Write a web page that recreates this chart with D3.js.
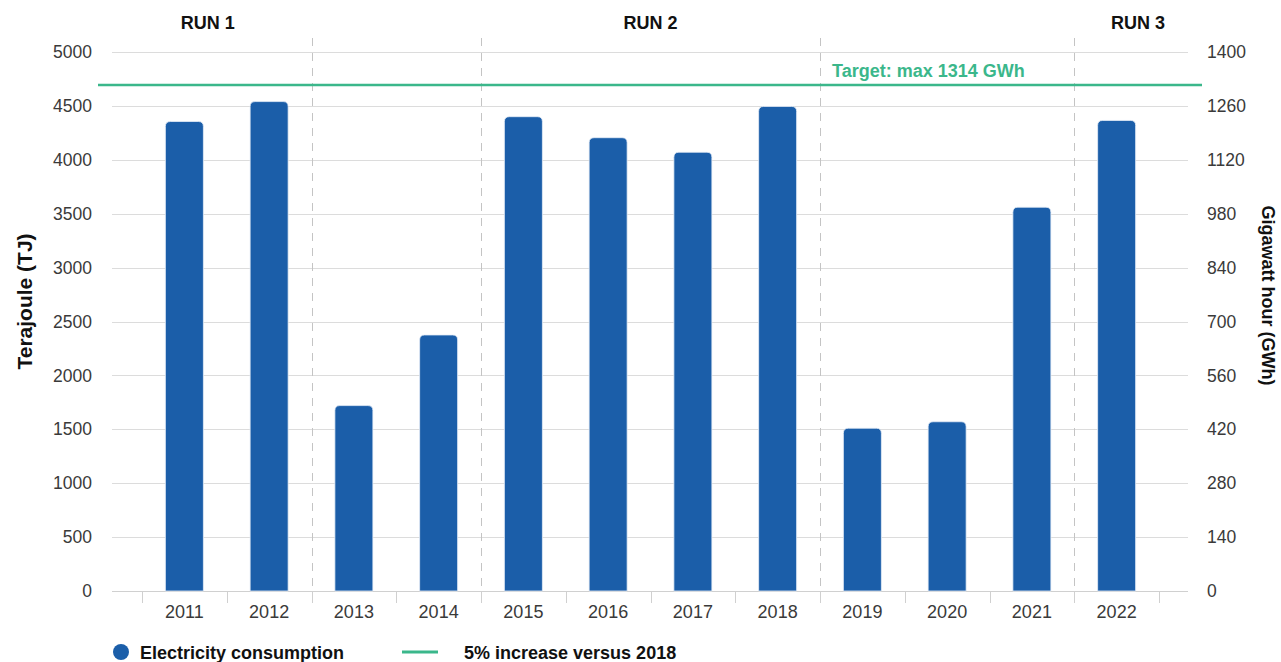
<!DOCTYPE html>
<html>
<head>
<meta charset="utf-8">
<script src="https://cdn.jsdelivr.net/npm/d3@7"></script>
<style>
  html, body { margin: 0; padding: 0; background: #fff; }
  svg { display: block; font-family: "Liberation Sans", Arial, Helvetica, sans-serif; }
</style>
</head>
<body>
<svg id="chart" width="1281" height="662"></svg>
<script>
// ---- data ----
const years = ["2011","2012","2013","2014","2015","2016","2017","2018","2019","2020","2021","2022"];
const consumptionTJ = [4355, 4540, 1720, 2375, 4400, 4205, 4070, 4495, 1510, 1570, 3560, 4365];
const leftTicks = [0, 500, 1000, 1500, 2000, 2500, 3000, 3500, 4000, 4500, 5000];
const rightTicks = [0, 140, 280, 420, 560, 700, 840, 980, 1120, 1260, 1400];
const targetGWh = 1314;
const targetLabel = "Target: max 1314 GWh";
const runs = [
  { label: "RUN 1", from: "2011", to: "2012" },
  { label: "RUN 2", from: "2015", to: "2018" },
  { label: "RUN 3", from: "2022", to: "2022" }
];
const separatorsAfter = ["2012", "2014", "2018", "2021"];
const seriesName = "Electricity consumption";
const targetName = "5% increase versus 2018";
const leftTitle = "Terajoule (TJ)";
const rightTitle = "Gigawatt hour (GWh)";

// ---- layout ----
const svg = d3.select("#chart");
const plotTop = 52, plotBottom = 591;
const gridLeft = 112, gridRight = 1188;
const axisLeft = 142, axisRight = 1159;
const lineLeft = 98, lineRight = 1202;
const blue = "#1b5ea9", green = "#3bb78b";
const tickFont = "'Liberation Sans', Arial, sans-serif";

const x = d3.scaleBand().domain(years).range([axisLeft, axisRight]).paddingInner(0).paddingOuter(0);
const yL = d3.scaleLinear().domain([0, 5000]).range([plotBottom, plotTop]);
const yR = d3.scaleLinear().domain([0, 1400]).range([plotBottom, plotTop]);

// gridlines
svg.append("g").selectAll("line").data(leftTicks).join("line")
  .attr("x1", gridLeft).attr("x2", gridRight)
  .attr("y1", d => Math.round(yL(d)) + 0.5).attr("y2", d => Math.round(yL(d)) + 0.5)
  .attr("stroke", "#dcdcdc").attr("stroke-width", 1);

// dashed separators
svg.append("g").selectAll("line").data(separatorsAfter).join("line")
  .attr("x1", d => Math.round(x(d) + x.bandwidth()) + 0.5)
  .attr("x2", d => Math.round(x(d) + x.bandwidth()) + 0.5)
  .attr("y1", 38).attr("y2", plotBottom)
  .attr("stroke", "#c4c4c4").attr("stroke-width", 1).attr("stroke-dasharray", "8,7");

// x axis (ticks at band edges)
const xAxis = d3.axisBottom(x).tickSize(0).tickPadding(14);
const gx = svg.append("g").attr("transform", `translate(0,${plotBottom})`).call(xAxis);
gx.select(".domain").remove();
gx.selectAll("text").attr("font-size", 18).attr("fill", "#3a3a3a").attr("font-family", tickFont);
const edges = years.map(d => x(d)).concat([x(years[years.length - 1]) + x.bandwidth()]);
svg.append("g").selectAll("line").data(edges).join("line")
  .attr("x1", d => Math.round(d) + 0.5).attr("x2", d => Math.round(d) + 0.5)
  .attr("y1", plotBottom).attr("y2", plotBottom + 12)
  .attr("stroke", "#d0d0d0").attr("stroke-width", 1);
svg.append("line").attr("x1", gridLeft).attr("x2", gridRight)
  .attr("y1", plotBottom + 0.5).attr("y2", plotBottom + 0.5)
  .attr("stroke", "#d0d0d0").attr("stroke-width", 1);

// left axis
const gl = svg.append("g").attr("transform", `translate(${gridLeft - 20},0)`)
  .call(d3.axisLeft(yL).tickValues(leftTicks).tickSize(0).tickPadding(0).tickFormat(d3.format("d")));
gl.select(".domain").remove();
gl.selectAll("text").attr("font-size", 17.5).attr("fill", "#3a3a3a").attr("font-family", tickFont);

// right axis
const gr = svg.append("g").attr("transform", `translate(${gridRight + 19},0)`)
  .call(d3.axisRight(yR).tickValues(rightTicks).tickSize(0).tickPadding(0).tickFormat(d3.format("d")));
gr.select(".domain").remove();
gr.selectAll("text").attr("font-size", 17.5).attr("fill", "#3a3a3a").attr("font-family", tickFont);

// axis titles
svg.append("text").attr("transform", `translate(32,${(plotTop + plotBottom) / 2 - 20}) rotate(-90)`)
  .attr("text-anchor", "middle").attr("font-size", 21).attr("font-weight", "bold").attr("fill", "#111")
  .text(leftTitle);
svg.append("text").attr("transform", `translate(1262,${(plotTop + plotBottom) / 2 - 26}) rotate(90)`)
  .attr("text-anchor", "middle").attr("font-size", 18).attr("font-weight", "bold").attr("fill", "#111")
  .text(rightTitle);

// bars with rounded top corners
const barW = 38, r = 5;
function barPath(d, i) {
  const cx = x(years[i]) + x.bandwidth() / 2;
  const x0 = cx - barW / 2, x1 = cx + barW / 2;
  const yt = yL(d), yb = yL(0);
  return `M${x0},${yb}V${yt + r}Q${x0},${yt} ${x0 + r},${yt}H${x1 - r}Q${x1},${yt} ${x1},${yt + r}V${yb}Z`;
}
svg.append("g").selectAll("path").data(consumptionTJ).join("path")
  .attr("d", (d, i) => barPath(d, i))
  .attr("fill", blue).attr("stroke", "#e6eef8").attr("stroke-width", 0.8);

// target line
const ty = yR(targetGWh);
svg.append("line").attr("x1", lineLeft).attr("x2", lineRight).attr("y1", ty).attr("y2", ty)
  .attr("stroke", green).attr("stroke-width", 2.5);
svg.append("text").attr("x", 832).attr("y", ty - 8).attr("font-size", 18).attr("font-weight", "bold")
  .attr("fill", green).text(targetLabel);

// run labels
runs.forEach(run => {
  const i0 = years.indexOf(run.from), i1 = years.indexOf(run.to);
  let left = x(run.from), right = x(run.to) + x.bandwidth();
  if (i0 === 0) left = gridLeft - 8;
  if (i1 === years.length - 1) right = lineRight;
  svg.append("text").attr("x", (left + right) / 2).attr("y", 29)
    .attr("text-anchor", "middle").attr("font-size", 18).attr("font-weight", "bold").attr("fill", "#111")
    .text(run.label);
});

// legend
svg.append("circle").attr("cx", 121).attr("cy", 652).attr("r", 8).attr("fill", blue);
svg.append("text").attr("x", 140).attr("y", 659).attr("font-size", 18).attr("font-weight", "bold")
  .attr("fill", "#111").text(seriesName);
svg.append("line").attr("x1", 402).attr("x2", 438).attr("y1", 652).attr("y2", 652)
  .attr("stroke", green).attr("stroke-width", 3);
svg.append("text").attr("x", 464).attr("y", 659).attr("font-size", 18).attr("font-weight", "bold")
  .attr("fill", "#111").text(targetName);
</script>
</body>
</html>
